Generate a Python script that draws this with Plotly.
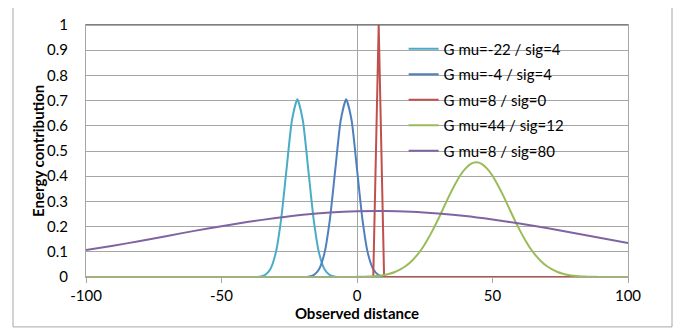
import plotly.graph_objects as go

# ---- data ----
cyan_x = [-100, -38, -36, -34, -32, -30, -28, -26, -24, -22, -20, -18, -16, -14, -12, -10, -8, -6, 100]
cyan_y = [0, 0.0002, 0.0015, 0.0078, 0.031, 0.095, 0.229, 0.428, 0.622, 0.705, 0.622, 0.428, 0.229, 0.095, 0.031, 0.0078, 0.0015, 0.0002, 0]

blue_x = [-100, -20, -18, -16, -14, -12, -10, -8, -6, -4, -2, 0, 2, 4, 6, 8, 10, 12, 100]
blue_y = [0, 0.0002, 0.0015, 0.0078, 0.031, 0.095, 0.229, 0.428, 0.622, 0.705, 0.622, 0.428, 0.229, 0.095, 0.031, 0.0078, 0.0015, 0.0002, 0]

red_x = [-100, 6, 8, 10, 100]
red_y = [0, 0, 1, 0, 0]

green_x = [-100, -4, -2, 0, 2, 4, 6, 8, 10, 12, 14, 16, 18, 20, 22, 24, 26, 28, 30, 32, 34, 36, 38,
           40, 42, 44, 46, 48, 50, 52, 54, 56, 58, 60, 62, 64, 66, 68, 70, 72, 74, 76, 78, 80, 82,
           84, 86, 88, 90, 92, 100]
green_y = [0, 0.0002, 0.0003, 0.0005, 0.0010, 0.0018, 0.0030, 0.0051, 0.0082, 0.0130, 0.0200, 0.0299,
           0.0435, 0.0616, 0.0847, 0.113, 0.148, 0.187, 0.230, 0.276, 0.322, 0.364, 0.402, 0.430,
           0.449, 0.455, 0.449, 0.430, 0.402, 0.364, 0.322, 0.276, 0.230, 0.187, 0.148, 0.113,
           0.0847, 0.0616, 0.0435, 0.0299, 0.0200, 0.0130, 0.0082, 0.0051, 0.0030, 0.0018, 0.0010,
           0.0005, 0.0003, 0.0002, 0]

purple_x = [-100, -90, -80, -70, -60, -50, -40, -30, -20, -10, 0, 10, 20, 30, 40, 50, 60, 70, 80, 90, 100]
purple_y = [0.107, 0.124, 0.143, 0.163, 0.183, 0.201, 0.219, 0.234, 0.247, 0.256, 0.261, 0.262, 0.259,
            0.252, 0.242, 0.228, 0.212, 0.194, 0.175, 0.155, 0.135]

x_tick_vals = [-100, -50, 0, 50, 100]
x_tick_text = ["-100", "-50", "0", "50", "100"]

names = ["G mu=-22 / sig=4", "G mu=-4 / sig=4", "G mu=8 / sig=0", "G mu=44 / sig=12", "G mu=8 / sig=80"]
colors = ["#4BACC6", "#4F81BD", "#C0504D", "#9BBB59", "#8064A2"]

FONT = "Lato, 'Liberation Sans', sans-serif"

series = [(cyan_x, cyan_y, "spline"), (blue_x, blue_y, "spline"), (red_x, red_y, "linear"),
          (green_x, green_y, "spline"), (purple_x, purple_y, "spline")]

fig = go.Figure()
for i, ((xs, ys, shp), nm, c) in enumerate(zip(series, names, colors)):
    fig.add_trace(go.Scatter(x=xs, y=ys, mode="lines", name=nm, legendgroup=str(i),
                             line=dict(color=c, width=2, shape=shp, smoothing=0.6)))

# the page body has an 8px margin, so the figure is 8px smaller than the window
fig.update_layout(
    width=674, height=321,
    margin=dict(l=78, r=54, t=17, b=52, autoexpand=False),
    paper_bgcolor="white", plot_bgcolor="white",
    font=dict(family=FONT, size=14, color="#000000"),
    showlegend=True,
    legend=dict(x=0.586, y=0.970, xanchor="left", yanchor="top", bgcolor="rgba(0,0,0,0)",
                font=dict(size=15, color="#000000"), tracegroupgap=3, itemwidth=30),
    xaxis=dict(range=[-100, 100], tickvals=x_tick_vals, ticktext=x_tick_text, showgrid=False,
               automargin=False,
               zeroline=True, zerolinecolor="#a6a6a6", zerolinewidth=1,
               showline=True, mirror=True, linecolor="#a6a6a6", linewidth=1,
               ticks="outside", ticklen=5, tickcolor="#a6a6a6", tickfont=dict(size=15),
               title=dict(text="<b>Observed distance</b>", font=dict(size=15), standoff=4)),
    yaxis=dict(range=[0, 1], dtick=0.1, showgrid=True, gridcolor="#a6a6a6", gridwidth=1,
               automargin=False, tickfont=dict(size=15),
               zeroline=False, showline=True, mirror=True, linecolor="#a6a6a6", linewidth=1,
               ticks="", ticklabelstandoff=14),
    annotations=[
        dict(text="<b>Energy contribution</b>", xref="paper", yref="paper", x=-0.0886, y=0.5,
             xanchor="center", yanchor="middle", textangle=-90, showarrow=False,
             font=dict(size=15, color="#000000")),
    ],
    shapes=[
        dict(type="line", xref="paper", yref="paper", x0=0, x1=1, y0=1, y1=1,
             line=dict(color="#595959", width=1)),
        dict(type="rect", xref="paper", yref="paper", x0=-0.1347, x1=1.0812, y0=-0.198, y1=1.2,
             line=dict(color="#a6a6a6", width=1), fillcolor="rgba(0,0,0,0)", layer="below"),
    ],
)

fig.write_html("out.html")
